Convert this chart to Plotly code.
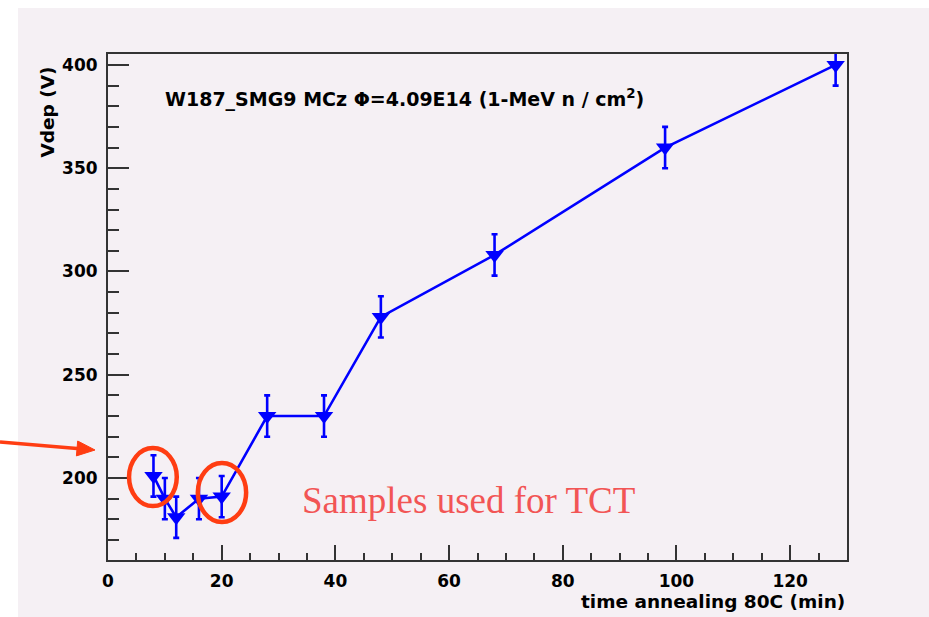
import plotly.graph_objects as go

# ---- data ----
time_min = [8, 10, 12, 16, 20, 28, 38, 48, 68, 98, 128]
vdep = [201, 190, 181, 190, 191, 230, 230, 278, 308, 360, 400]
vdep_err = [10, 10, 10, 10, 10, 10, 10, 10, 10, 10, 10]
x_ticks = [0, 20, 40, 60, 80, 100, 120]
y_ticks = [200, 250, 300, 350, 400]

BG = "#f5f0f4"
BLUE = "#0000ff"
RED = "#ff3d12"
AX = "#333333"
FONT = "DejaVu Sans"

fig = go.Figure()
fig.add_trace(go.Scatter(
    x=time_min, y=vdep, mode="lines+markers",
    line=dict(color=BLUE, width=2.6),
    marker=dict(symbol="triangle-down", size=16, color=BLUE),
    error_y=dict(type="data", array=vdep_err, visible=True,
                 color=BLUE, thickness=2.6, width=3),
    cliponaxis=True, showlegend=False,
))

L, R, T, B = 108, 82, 54, 57
W, H = 929, 617
pw, ph = W - L - R, H - T - B

def px(xp):
    return (xp - L) / pw

def py(yp):
    return (H - B - yp) / ph

# pink page background
fig.add_shape(type="rect", xref="paper", yref="paper",
              x0=px(18), x1=px(W + 5), y0=py(H + 5), y1=py(8),
              fillcolor=BG, line=dict(width=0), layer="below")

# red ellipses
fig.add_shape(type="circle", xref="x", yref="y",
              x0=3.7, x1=12.1, y0=186.4, y1=214.5,
              line=dict(color=RED, width=4.5))
fig.add_shape(type="circle", xref="x", yref="y",
              x0=15.8, x1=24.3, y0=178.7, y1=207.3,
              line=dict(color=RED, width=4.5))

# red arrow (shaft + head) in paper coordinates
fig.add_shape(type="line", xref="paper", yref="paper",
              x0=px(0), y0=py(442), x1=px(80), y1=py(448.7),
              line=dict(color=RED, width=3.5))
head = [(95, 450), (76.4, 455.9), (77.7, 441.0)]
path = "M " + " L ".join(f"{px(a)},{py(b)}" for a, b in head) + " Z"
fig.add_shape(type="path", xref="paper", yref="paper", path=path,
              fillcolor=RED, line=dict(color=RED, width=1))

tickfont = dict(family=FONT, size=17, color="black", weight="bold")

fig.update_layout(
    width=W, height=H,
    margin=dict(l=L, r=R, t=T, b=B, pad=0),
    paper_bgcolor="white", plot_bgcolor=BG,
    xaxis=dict(range=[0, 130], tickvals=x_ticks, ticks="inside",
               ticklen=15, tickwidth=1.5, tickcolor=AX,
               minor=dict(dtick=5, tick0=0, ticks="inside", ticklen=7,
                          tickwidth=1.5, tickcolor=AX, showgrid=False),
               showline=True, linecolor=AX, linewidth=2, mirror=True,
               showgrid=False, zeroline=False, tickfont=tickfont,
               ticklabelstandoff=5),
    yaxis=dict(range=[160.3, 405.3], tickvals=y_ticks, ticks="inside",
               ticklen=21, tickwidth=1.5, tickcolor=AX,
               minor=dict(dtick=10, tick0=0, ticks="inside", ticklen=11,
                          tickwidth=1.5, tickcolor=AX, showgrid=False),
               showline=True, linecolor=AX, linewidth=2, mirror=True,
               showgrid=False, zeroline=False, tickfont=tickfont,
               ticklabelstandoff=5),
)

# chart title inside the frame
fig.add_annotation(xref="paper", yref="paper", x=px(163), y=py(98),
                   xanchor="left", yanchor="middle", showarrow=False,
                   text="W187_SMG9 MCz \u03a6=4.09E14 (1-MeV n / cm<sup>2</sup>)",
                   font=dict(family=FONT, size=19, color="black", weight="bold"))
# axis titles
fig.add_annotation(xref="paper", yref="paper", x=1.0, y=py(601),
                   xanchor="right", yanchor="middle", showarrow=False,
                   text="time annealing 80C (min)",
                   font=dict(family=FONT, size=18.5, color="black", weight="bold"))
fig.add_annotation(xref="paper", yref="paper", x=px(47), y=py(65),
                   xanchor="center", yanchor="top", showarrow=False,
                   textangle=-90, text="Vdep (V)",
                   font=dict(family=FONT, size=18.5, color="black", weight="bold"))
# red label
fig.add_annotation(xref="paper", yref="paper", x=px(300), y=py(500),
                   xanchor="left", yanchor="middle", showarrow=False,
                   text="Samples used for TCT",
                   font=dict(family="Liberation Serif", size=37, color="#f25555"))

fig.write_html("out.html")
